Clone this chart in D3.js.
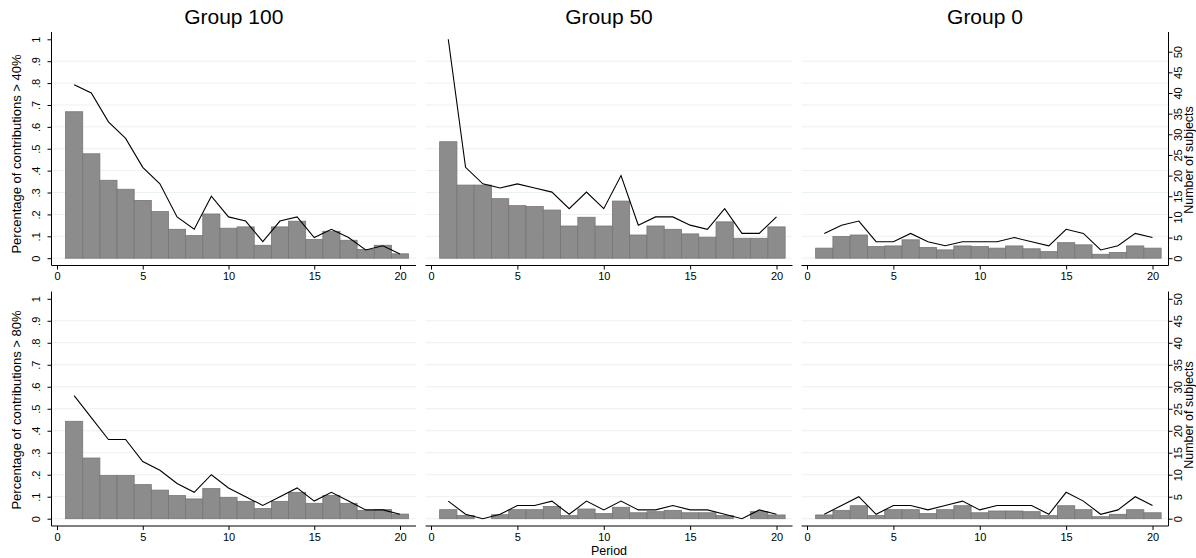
<!DOCTYPE html>
<html>
<head>
<meta charset="utf-8">
<script src="https://cdn.jsdelivr.net/npm/d3@7"></script>
<style>
  body { margin: 0; background: #fff; }
  text { font-family: "Liberation Sans", Arial, Helvetica, sans-serif; fill: #000; }
</style>
</head>
<body>
<svg id="chart" width="1196" height="558"></svg>
<script>
const groups = ['Group 100', 'Group 50', 'Group 0'];
const rowTitles = ['Percentage of contributions > 40%', 'Percentage of contributions > 80%'];
const periods = [1, 2, 3, 4, 5, 6, 7, 8, 9, 10, 11, 12, 13, 14, 15, 16, 17, 18, 19, 20];
const xTicks = [0, 5, 10, 15, 20];
const leftTicks = [0, 0.1, 0.2, 0.3, 0.4, 0.5, 0.6, 0.7, 0.8, 0.9, 1];
const rightTicks = [0, 5, 10, 15, 20, 25, 30, 35, 40, 45, 50];

// bars: share of contributions above the threshold (left axis)
const share40_g100 = [.669, .477, .356, .315, .264, .213, .132, .103, .202, .137, .143, .059, .143, .169, .085, .123, .082, .040, .059, .020];
const share40_g50  = [.532, .334, .334, .272, .240, .236, .220, .147, .187, .147, .261, .106, .147, .132, .111, .096, .166, .091, .091, .143];
const share40_g0   = [.046, .099, .106, .053, .056, .084, .049, .038, .056, .053, .046, .056, .043, .030, .071, .061, .018, .026, .056, .046];
const share80_g100 = [.443, .276, .196, .196, .155, .130, .105, .090, .137, .097, .079, .046, .079, .120, .070, .105, .070, .038, .042, .021];
const share80_g50  = [.041, .015, 0, .018, .041, .041, .056, .014, .044, .023, .052, .027, .032, .038, .027, .027, .014, 0, .032, .017];
const share80_g0   = [.017, .038, .059, .014, .041, .041, .023, .041, .059, .027, .035, .035, .032, .014, .059, .041, .009, .020, .041, .027];

// line: number of subjects (right axis)
const subj40_g100 = [42, 40, 33, 29, 22, 18, 10, 7, 15, 10, 9, 4, 9, 10, 5, 7, 5, 2, 3, 1];
const subj40_g50  = [53, 22, 18, 17, 18, 17, 16, 12, 16, 12, 20, 8, 10, 10, 8, 7, 12, 6, 6, 10];
const subj40_g0   = [6, 8, 9, 4, 4, 6, 4, 3, 4, 4, 4, 5, 4, 3, 7, 6, 2, 3, 6, 5];
const subj80_g100 = [28, 23, 18, 18, 13, 11, 8, 6, 10, 7, 5, 3, 5, 7, 4, 6, 4, 2, 2, 1];
const subj80_g50  = [4, 1, 0, 1, 3, 3, 4, 1, 4, 2, 4, 2, 2, 3, 2, 2, 1, 0, 2, 1];
const subj80_g0   = [1, 3, 5, 1, 3, 3, 2, 3, 4, 2, 3, 3, 3, 1, 6, 4, 1, 2, 5, 3];

const rows = [
  {title: rowTitles[0], bars: [share40_g100, share40_g50, share40_g0], lines: [subj40_g100, subj40_g50, subj40_g0]},
  {title: rowTitles[1], bars: [share80_g100, share80_g50, share80_g0], lines: [subj80_g100, subj80_g50, subj80_g0]}
];

const svg = d3.select('#chart');
const cols = [{x0: 51.5, x1: 416}, {x0: 425.5, x1: 792.5}, {x0: 801.5, x1: 1168.5}];
const rowBox = [{top: 32, axis: 265.5, mid: 154, rmid: 160}, {top: 291.5, axis: 526, mid: 410, rmid: 415}];
const gridColor = '#eaf2f3';
const fmt = d => d === 0 ? '0' : d === 1 ? '1' : d3.format('.1f')(d).replace(/^0/, '');

rows.forEach((row, ri) => {
  const box = rowBox[ri];
  const yL = d3.scaleLinear().domain([0, 1]).range([box.axis - 7.3, box.top + 7.3]);
  const rMax = Math.max(50, d3.max(row.lines.flat()));
  const yR = d3.scaleLinear().domain([0, rMax]).range(yL.range());

  cols.forEach((c, ci) => {
    const x = d3.scaleLinear().domain([0, 20]).range([c.x0 + 5.5, c.x1 - 16]);
    const g = svg.append('g');

    // gridlines
    g.selectAll('.grid').data(leftTicks.filter(t => t < 1)).enter().append('line')
      .attr('x1', c.x0).attr('x2', c.x1)
      .attr('y1', d => yL(d)).attr('y2', d => yL(d))
      .attr('stroke', gridColor).attr('stroke-width', 1);

    // bars
    const bars = row.bars[ci];
    g.selectAll('.bar').data(periods).enter().append('rect')
      .attr('x', p => x(p - 0.5))
      .attr('width', p => x(p + 0.5) - x(p - 0.5))
      .attr('y', (p, i) => yL(bars[i]))
      .attr('height', (p, i) => yL(0) - yL(bars[i]))
      .attr('fill', '#8c8c8c')
      .attr('stroke', '#767676')
      .attr('stroke-width', 0.8);

    // line
    const line = row.lines[ci];
    const lineGen = d3.line().x(p => x(p)).y((p, i) => yR(line[i]));
    g.append('path').datum(periods)
      .attr('d', lineGen)
      .attr('fill', 'none')
      .attr('stroke', '#000')
      .attr('stroke-width', 1.1);

    // x axis
    const xAxisG = g.append('g').attr('transform', `translate(0,${box.axis})`)
      .call(d3.axisBottom(x).tickValues(xTicks).tickSize(4).tickPadding(3));
    xAxisG.select('.domain').remove();
    xAxisG.append('line').attr('x1', c.x0).attr('x2', c.x1).attr('stroke', '#000');
    xAxisG.selectAll('text').style('font-size', '11px').attr('fill', '#000');

    if (ci === 0) {
      const yAxisG = g.append('g').attr('transform', `translate(${c.x0},0)`)
        .call(d3.axisLeft(yL).tickValues(leftTicks).tickSize(4).tickFormat(fmt));
      yAxisG.select('.domain').remove();
      yAxisG.append('line').attr('y1', box.top).attr('y2', box.axis).attr('stroke', '#000');
      yAxisG.selectAll('text')
        .attr('transform', 'rotate(-90)')
        .attr('x', 0).attr('y', -12).attr('dy', 0)
        .attr('text-anchor', 'middle')
        .style('font-size', '11px').attr('fill', '#000');

      svg.append('text')
        .attr('transform', `translate(21,${box.mid}) rotate(-90)`)
        .attr('text-anchor', 'middle')
        .style('font-size', '13px')
        .text(row.title);
    }

    if (ci === 2) {
      const rAxisG = g.append('g').attr('transform', `translate(${c.x1},0)`)
        .call(d3.axisRight(yR).tickValues(rightTicks).tickSize(4));
      rAxisG.select('.domain').remove();
      rAxisG.append('line').attr('y1', box.top).attr('y2', box.axis).attr('stroke', '#000');
      rAxisG.selectAll('text')
        .attr('transform', 'rotate(-90)')
        .attr('x', 0).attr('y', 13.5).attr('dy', 0)
        .attr('text-anchor', 'middle')
        .style('font-size', '11px').attr('fill', '#000');

      svg.append('text')
        .attr('transform', `translate(1193,${box.rmid}) rotate(-90)`)
        .attr('text-anchor', 'middle')
        .style('font-size', '12.5px')
        .text('Number of subjects');
    }

    if (ri === 0) {
      svg.append('text')
        .attr('x', (c.x0 + c.x1) / 2).attr('y', 24)
        .attr('text-anchor', 'middle')
        .style('font-size', '21px')
        .text(groups[ci]);
    }
  });
});

svg.append('text')
  .attr('x', (cols[1].x0 + cols[1].x1) / 2).attr('y', 555)
  .attr('text-anchor', 'middle')
  .style('font-size', '12.5px')
  .text('Period');
</script>
</body>
</html>
